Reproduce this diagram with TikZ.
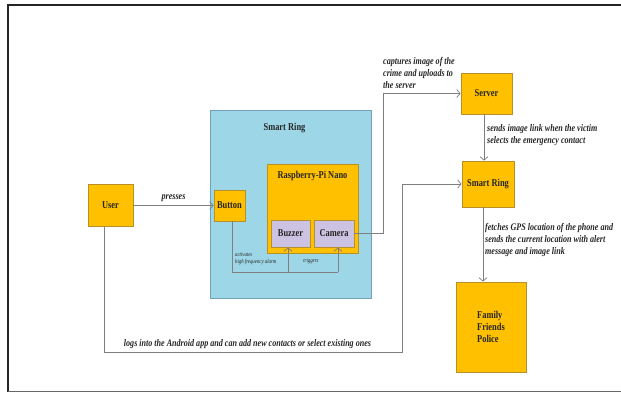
\documentclass[tikz,border=0pt]{standalone}
\usepackage{fontspec}
\setmainfont{Liberation Serif}
\newfontfamily\narrowserif[FakeStretch=0.8]{Liberation Serif}
\usetikzlibrary{arrows.meta}
\definecolor{gold}{HTML}{FFC000}
\definecolor{goldedge}{HTML}{B8902A}
\definecolor{ringblue}{HTML}{9DD6E6}
\definecolor{ringedge}{HTML}{6FA3B5}
\definecolor{lavender}{HTML}{CCC2E2}
\definecolor{wire}{HTML}{7F7F7F}
\begin{document}
\begin{tikzpicture}[x=1pt,y=-1pt,
  box/.style={draw=goldedge,fill=gold,line width=0.8pt,inner sep=0pt,
    font=\narrowserif\fontsize{10.5}{12}\selectfont\bfseries,text=black!85},
  part/.style={box,fill=lavender},
  conn/.style={draw=wire,line width=0.7pt,-{Straight Barb[length=3.5pt,width=8pt]}},
  plain/.style={draw=wire,line width=0.7pt},
  note/.style={font=\narrowserif\fontsize{10.1}{12.3}\selectfont\bfseries\itshape,
    text=black!85,inner sep=0pt,align=left},
  tiny/.style={font=\narrowserif\fontsize{6}{7.5}\selectfont\itshape,
    text=black!85,inner sep=0pt,align=left}]
\useasboundingbox (0,0) rectangle (621,393);
\fill[white] (0,0) rectangle (621,393);
% page frame
\draw[black!85,line width=1.6pt] (621,5) -- (8,5) -- (8,391.5);
\draw[black!60,line width=1pt] (8,391.5) -- (621,391.5);

% smart ring enclosure
\node[draw=ringedge,fill=ringblue,line width=0.8pt,minimum width=161pt,minimum height=188pt] (ring) at (290.5,204) {};
\node[font=\narrowserif\fontsize{10.5}{12}\selectfont\bfseries,text=black!85] (ringtitle) at (284.5,128) {Smart Ring};

% Raspberry-Pi Nano board with its parts
\node[box,minimum width=91pt,minimum height=89pt] (rpi) at (312.5,208.5) {};
\node[font=\narrowserif\fontsize{10.5}{12}\selectfont\bfseries,text=black!85] (rpititle) at (312.5,176) {Raspberry-Pi Nano};
\node[part,minimum width=39pt,minimum height=27pt] (buzzer) at (290.5,233.5) {Buzzer};
\node[part,minimum width=40pt,minimum height=27pt] (camera) at (334,233.5) {Camera};
\node[box,minimum width=31pt,minimum height=31pt] (button) at (229.5,205.5) {Button};

% outer actors
\node[box,minimum width=45pt,minimum height=42pt] (user) at (110.5,205.5) {User};
\node[box,minimum width=51pt,minimum height=41pt] (server) at (486.5,93.5) {Server};
\node[box,minimum width=52pt,minimum height=46pt] (ring2) at (488,184) {Smart Ring};
\node[box,minimum width=70pt,minimum height=90pt,align=left] (family) at (491,327) {Family\\Friends\\Police};

% connectors
\draw[conn] (user.east) -- node[note,above=4pt] (lpress) {presses} (button.west);

\coordinate (bus) at (0,272);
\draw[plain] ([xshift=2.5pt]button.south) |- ([xshift=4pt]camera.south |- bus);
\draw[conn] ([xshift=4pt]camera.south |- bus) -- ([xshift=4pt]camera.south);
\draw[conn] ([xshift=-2.5pt]buzzer.south |- bus) -- ([xshift=-2.5pt]buzzer.south);
\node[tiny,anchor=north west] (lalarm) at (235,252) {activates\\high frequency alarm};
\node[tiny] (ltrig) at (311,261) {triggers};

\coordinate (upl) at (383,0);
\draw[conn] (camera.east) -| (upl |- server.west) -- (server.west);
\node[note,anchor=north west] (lcap) at (383,57) {captures image of the\\crime and uploads to\\the server};

\draw[conn] ([xshift=-2.5pt]server.south) -- ([xshift=-2.5pt]server.south |- ring2.north);
\node[note,anchor=north west] (lsend) at (487,124) {sends image link when the victim\\selects the emergency contact};

\draw[conn] ([xshift=-5pt]ring2.south) -- ([xshift=-5pt]ring2.south |- family.north);
\node[note,anchor=north west] (lgps) at (485,223) {fetches GPS location of the phone and\\sends the current location with alert\\message and image link};

\coordinate (login) at (402,352);
\draw[conn] ([xshift=-6.5pt]user.south) |- (login) |- (ring2.west);
\node[note,anchor=south] (llog) at (247.5,349) {logs into the Android app and can add new contacts or select existing ones};
\end{tikzpicture}
\end{document}
